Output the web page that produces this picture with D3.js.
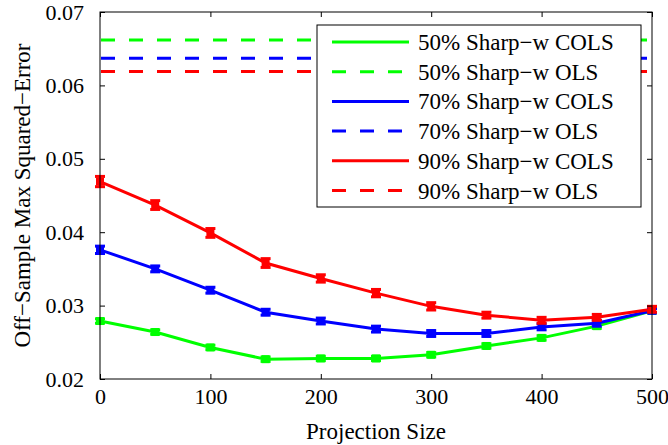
<!DOCTYPE html>
<html>
<head>
    <meta charset="utf-8">
    <script type="text/javascript" src="https://cdn.jsdelivr.net/npm/d3@7"></script>
    <title>Off-Sample Max Squared-Error</title>
    <style>
        body { margin: 0; background: #fff; }
    </style>
</head>
<body>
    <div id="chart"></div>
    <script type="text/javascript">
        // projection sizes
        var sizes = [0, 50, 100, 150, 200, 250, 300, 350, 400, 450, 500];

        // COLS curves
        var cols50 = [0.0279, 0.0264, 0.0243, 0.0227, 0.0228, 0.0228, 0.0233, 0.0245, 0.0256, 0.0272, 0.0293],
            cols70 = [0.0376, 0.0350, 0.0321, 0.0291, 0.0279, 0.0268, 0.0262, 0.0262, 0.0271, 0.0276, 0.0293],
            cols90 = [0.0469, 0.0437, 0.0399, 0.0358, 0.0337, 0.0317, 0.0299, 0.0287, 0.0280, 0.0284, 0.0295];

        // half widths of the error bars
        var err50 = [0.0003, 0.0003, 0.0003, 0.0003, 0.0003, 0.0003, 0.0003, 0.0003, 0.0003, 0.0003, 0.0003],
            err70 = [0.0005, 0.0004, 0.0004, 0.0004, 0.0004, 0.0004, 0.0004, 0.0004, 0.0004, 0.0004, 0.0003],
            err90 = [0.0007, 0.0006, 0.0006, 0.0006, 0.0005, 0.0005, 0.0005, 0.0004, 0.0004, 0.0004, 0.0004];

        // OLS baselines (flat)
        var ols50 = 0.0662, ols70 = 0.0637, ols90 = 0.0619;

        var legendLabels = [
            '50% Sharp\u2212w COLS', '50% Sharp\u2212w OLS',
            '70% Sharp\u2212w COLS', '70% Sharp\u2212w OLS',
            '90% Sharp\u2212w COLS', '90% Sharp\u2212w OLS'
        ];
        var xTicks = [0, 100, 200, 300, 400, 500],
            yTicks = [0.02, 0.03, 0.04, 0.05, 0.06, 0.07];

        var colors = { g: '#00ff00', b: '#0000ff', r: '#ff0000' };

        var series = [
            { color: colors.g, cols: cols50, err: err50, ols: ols50 },
            { color: colors.b, cols: cols70, err: err70, ols: ols70 },
            { color: colors.r, cols: cols90, err: err90, ols: ols90 }
        ];

        var FONT = "'Liberation Serif', 'DejaVu Serif', serif";

        var W = 668, H = 445,
            m = { left: 100, top: 12, right: 16, bottom: 66 },
            w = W - m.left - m.right,
            h = H - m.top - m.bottom;

        var svg = d3.select('#chart').append('svg')
                .attr('width', W)
                .attr('height', H);

        var g = svg.append('g').attr('transform', 'translate(' + m.left + ',' + m.top + ')');

        var x = d3.scaleLinear().domain([0, 500]).range([0, w]),
            y = d3.scaleLinear().domain([0.02, 0.07]).range([h, 0]);

        var line = d3.line()
                .x(function (d) { return x(d[0]); })
                .y(function (d) { return y(d[1]); });

        var plot = g.append('g');

        series.forEach(function (s) {
            var pts = sizes.map(function (v, i) { return [v, s.cols[i], s.err[i]]; });

            plot.append('path')
                    .attr('d', line(pts))
                    .attr('fill', 'none')
                    .attr('stroke', s.color)
                    .attr('stroke-width', 3);

            var eb = plot.append('g').selectAll('g')
                    .data(pts)
                    .enter().append('g')
                    .attr('stroke', s.color)
                    .attr('stroke-width', 3);
            eb.append('line')
                    .attr('x1', function (d) { return x(d[0]); })
                    .attr('x2', function (d) { return x(d[0]); })
                    .attr('y1', function (d) { return y(d[1] - d[2]); })
                    .attr('y2', function (d) { return y(d[1] + d[2]); });
            eb.selectAll('.cap')
                    .data(function (d) { return [[d[0], d[1] - d[2]], [d[0], d[1] + d[2]]]; })
                    .enter().append('line')
                    .attr('class', 'cap')
                    .attr('x1', function (d) { return x(d[0]) - 5; })
                    .attr('x2', function (d) { return x(d[0]) + 5; })
                    .attr('y1', function (d) { return y(d[1]); })
                    .attr('y2', function (d) { return y(d[1]); });
            eb.append('rect')
                    .attr('x', function (d) { return x(d[0]) - 4; })
                    .attr('y', function (d) { return y(d[1]) - 4; })
                    .attr('width', 8)
                    .attr('height', 8)
                    .attr('fill', s.color)
                    .attr('stroke', 'none');

            plot.append('line')
                    .attr('x1', x(0))
                    .attr('x2', x(500))
                    .attr('y1', y(s.ols))
                    .attr('y2', y(s.ols))
                    .attr('stroke', s.color)
                    .attr('stroke-width', 3)
                    .attr('stroke-dasharray', '14,14')
                    .attr('stroke-dashoffset', -1);
        });

        // axes, matlab style box with inward ticks
        function styleAxis(sel, showLabels) {
            sel.attr('font-family', FONT).attr('font-size', 22);
            sel.select('.domain').remove();
            sel.selectAll('.tick line').attr('stroke', '#000').attr('stroke-width', 1);
            sel.selectAll('.tick text')
                    .attr('font-family', FONT)
                    .attr('font-size', 22)
                    .attr('fill', '#000');
            if (!showLabels) sel.selectAll('.tick text').remove();
        }

        g.append('g')
                .attr('transform', 'translate(0,' + h + ')')
                .call(d3.axisBottom(x).tickValues(xTicks).tickSizeInner(-5).tickSizeOuter(0).tickPadding(9)
                        .tickFormat(d3.format('d')))
                .call(styleAxis, true);
        g.append('g')
                .call(d3.axisTop(x).tickValues(xTicks).tickSizeInner(-5).tickSizeOuter(0))
                .call(styleAxis, false);
        g.append('g')
                .call(d3.axisLeft(y).tickValues(yTicks).tickSizeInner(-5).tickSizeOuter(0).tickPadding(16)
                        .tickFormat(d3.format('.2f')))
                .call(styleAxis, true);
        g.append('g')
                .attr('transform', 'translate(' + w + ',0)')
                .call(d3.axisRight(y).tickValues(yTicks).tickSizeInner(-5).tickSizeOuter(0))
                .call(styleAxis, false);

        g.append('rect')
                .attr('width', w)
                .attr('height', h)
                .attr('fill', 'none')
                .attr('stroke', '#000')
                .attr('stroke-width', 1);

        // legend
        var lg = g.append('g').attr('transform', 'translate(217,13)');
        lg.append('rect')
                .attr('width', 324)
                .attr('height', 182)
                .attr('fill', '#fff')
                .attr('stroke', '#000')
                .attr('stroke-width', 1);

        var items = lg.selectAll('.item')
                .data(legendLabels)
                .enter().append('g')
                .attr('class', 'item')
                .attr('transform', function (d, i) { return 'translate(0,' + (17 + i * 29.7) + ')'; });
        items.append('line')
                .attr('x1', 15)
                .attr('x2', 92)
                .attr('stroke', function (d, i) { return series[Math.floor(i / 2)].color; })
                .attr('stroke-width', 3)
                .attr('stroke-dasharray', function (d, i) { return i % 2 ? '14,14' : null; });
        items.append('text')
                .attr('x', 101)
                .attr('y', 8)
                .attr('font-family', FONT)
                .attr('font-size', 23)
                .text(function (d) { return d; });

        // axis titles
        g.append('text')
                .attr('x', w / 2)
                .attr('y', h + 60)
                .attr('text-anchor', 'middle')
                .attr('font-family', FONT)
                .attr('font-size', 23)
                .text('Projection Size');
        g.append('text')
                .attr('transform', 'translate(' + (-70) + ',' + (h / 2) + ') rotate(-90)')
                .attr('text-anchor', 'middle')
                .attr('font-family', FONT)
                .attr('font-size', 23)
                .text('Off\u2212Sample Max Squared\u2212Error');
    </script>
</body>
</html>
